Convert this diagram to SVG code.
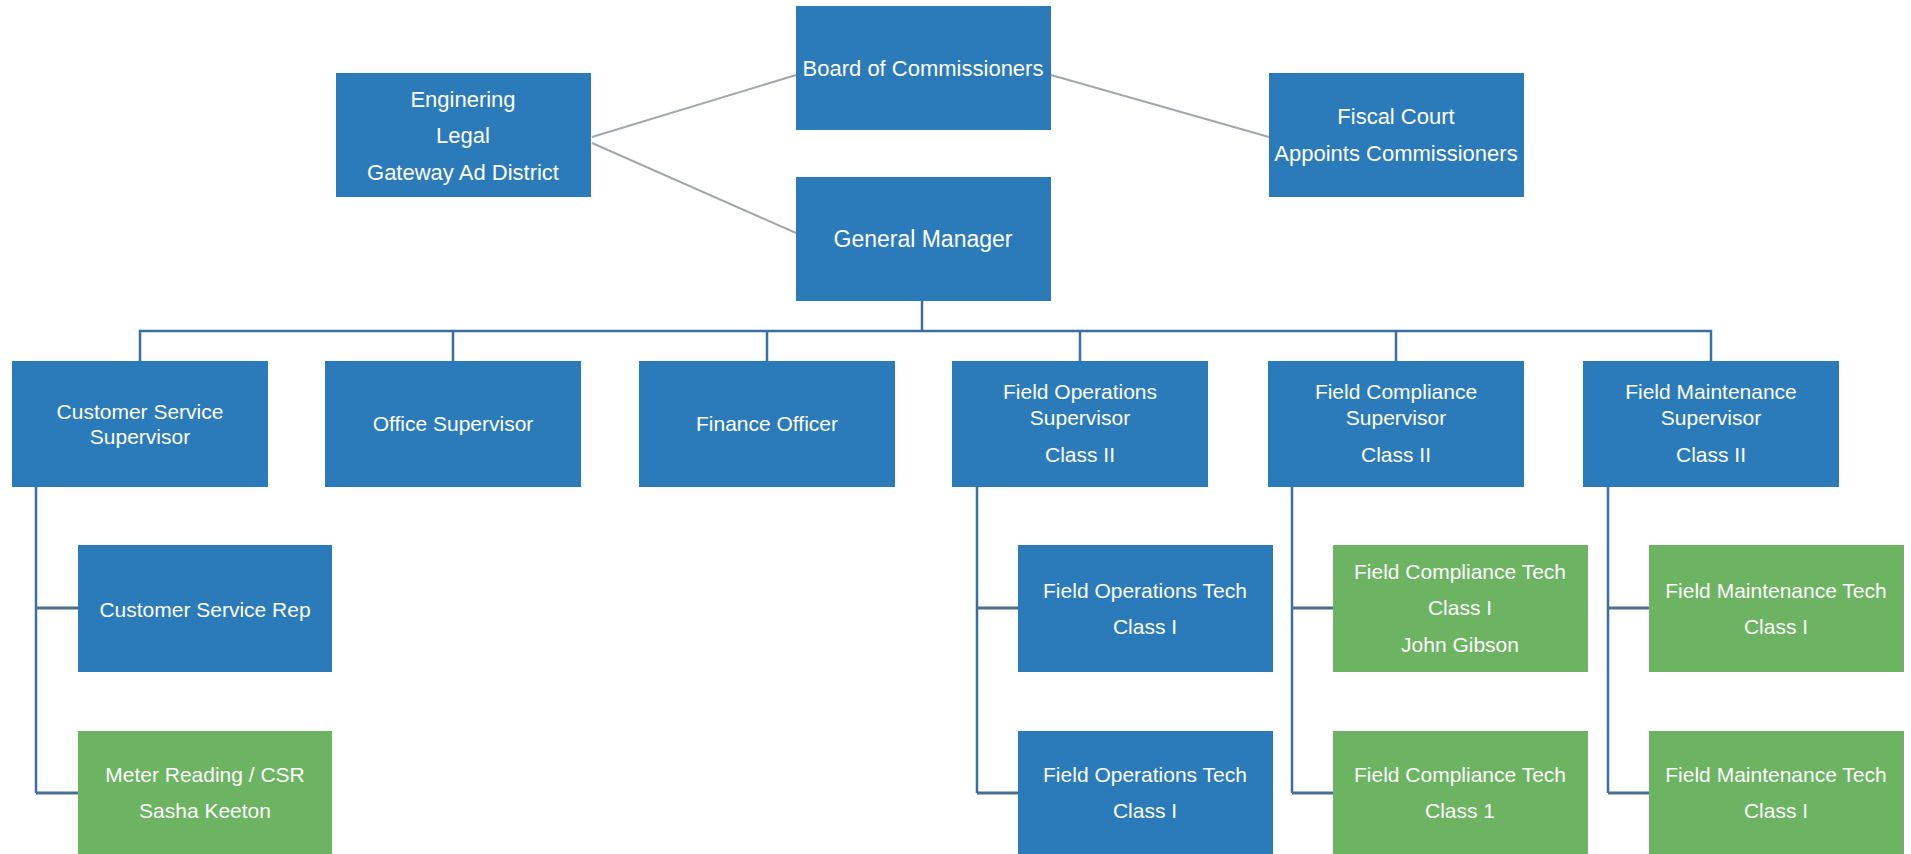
<svg xmlns="http://www.w3.org/2000/svg" width="1911" height="854" viewBox="0 0 1911 854">
<style>
.b{fill:#2b7bbb}
.g{fill:#6cb462}
text{font-family:"Liberation Sans",Arial,sans-serif;font-size:21px;fill:#fff;text-anchor:middle}
.t{font-size:22px}
.gl{stroke:#a3a7ab;stroke-width:2;fill:none}
.bl{stroke:#3a6f9f;stroke-width:2.5;fill:none}
.tk{stroke:#4a6f94;stroke-width:3;fill:none}
</style>
<rect width="1911" height="854" fill="#fff"/>
<g id="connectors">
<line class="gl" x1="592" y1="137" x2="796" y2="75"/>
<line class="gl" x1="592" y1="143" x2="796" y2="233"/>
<line class="gl" x1="1051" y1="75" x2="1269" y2="137"/>
<path class="bl" d="M922 301V331M140 361V331H1711V361M453 331V361M767 331V361M1080 331V361M1396 331V361"/>
<path class="bl" d="M36 487V793M977 487V793M1292 487V793M1608 487V793"/>
<path class="tk" d="M36 608H78M36 793H78M977 608H1018M977 793H1018M1292 608H1333M1292 793H1333M1608 608H1649M1608 793H1649"/>
</g>
<g id="board"><rect class="b" x="796" y="6" width="255" height="124"/><text class="t" x="923" y="76">Board of Commissioners</text></g>
<g id="engineering"><rect class="b" x="336" y="73" width="255" height="124"/><text class="t" x="463" y="107">Enginering</text><text class="t" x="463" y="143">Legal</text><text class="t" x="463" y="180">Gateway Ad District</text></g>
<g id="fiscal"><rect class="b" x="1269" y="73" width="255" height="124"/><text class="t" x="1396" y="124">Fiscal Court</text><text class="t" x="1396" y="161">Appoints Commissioners</text></g>
<g id="gm"><rect class="b" x="796" y="177" width="255" height="124"/><text class="t" x="923" y="247" style="font-size:23px">General Manager</text></g>
<g id="cs-sup"><rect class="b" x="12" y="361" width="256" height="126"/><text x="140" y="419">Customer Service</text><text x="140" y="444">Supervisor</text></g>
<g id="office-sup"><rect class="b" x="325" y="361" width="256" height="126"/><text x="453" y="431">Office Supervisor</text></g>
<g id="finance"><rect class="b" x="639" y="361" width="256" height="126"/><text x="767" y="431">Finance Officer</text></g>
<g id="fo-sup"><rect class="b" x="952" y="361" width="256" height="126"/><text x="1080" y="399">Field Operations</text><text x="1080" y="425">Supervisor</text><text x="1080" y="462">Class II</text></g>
<g id="fc-sup"><rect class="b" x="1268" y="361" width="256" height="126"/><text x="1396" y="399">Field Compliance</text><text x="1396" y="425">Supervisor</text><text x="1396" y="462">Class II</text></g>
<g id="fm-sup"><rect class="b" x="1583" y="361" width="256" height="126"/><text x="1711" y="399">Field Maintenance</text><text x="1711" y="425">Supervisor</text><text x="1711" y="462">Class II</text></g>
<g id="csr"><rect class="b" x="78" y="545" width="254" height="127"/><text x="205" y="617">Customer Service Rep</text></g>
<g id="meter"><rect class="g" x="78" y="731" width="254" height="127"/><text x="205" y="782">Meter Reading / CSR</text><text x="205" y="818">Sasha Keeton</text></g>
<g id="fot1"><rect class="b" x="1018" y="545" width="255" height="127"/><text x="1145" y="598">Field Operations Tech</text><text x="1145" y="634">Class I</text></g>
<g id="fot2"><rect class="b" x="1018" y="731" width="255" height="127"/><text x="1145" y="782">Field Operations Tech</text><text x="1145" y="818">Class I</text></g>
<g id="fct1"><rect class="g" x="1333" y="545" width="255" height="127"/><text x="1460" y="579">Field Compliance Tech</text><text x="1460" y="615">Class I</text><text x="1460" y="652">John Gibson</text></g>
<g id="fct2"><rect class="g" x="1333" y="731" width="255" height="127"/><text x="1460" y="782">Field Compliance Tech</text><text x="1460" y="818">Class 1</text></g>
<g id="fmt1"><rect class="g" x="1649" y="545" width="255" height="127"/><text x="1776" y="598">Field Maintenance Tech</text><text x="1776" y="634">Class I</text></g>
<g id="fmt2"><rect class="g" x="1649" y="731" width="255" height="127"/><text x="1776" y="782">Field Maintenance Tech</text><text x="1776" y="818">Class I</text></g>
</svg>
